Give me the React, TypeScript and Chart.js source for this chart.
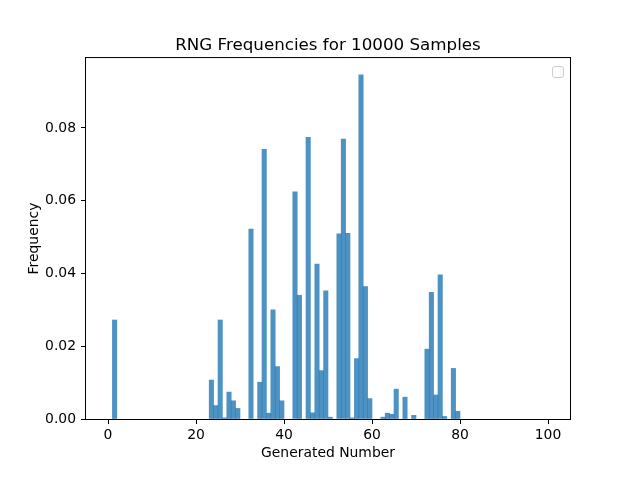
import React, { useEffect, useRef } from "react";
import { Chart, registerables } from "chart.js";

Chart.register(...registerables);

// histogram bins (start of each 1-wide bin) that have any samples
const binStarts = [
  1, 23, 24, 25, 26, 27, 28, 29, 32, 34, 35, 36, 37, 38, 39, 42, 43, 45, 46, 47, 48, 49, 50,
  52, 53, 54, 55, 56, 57, 58, 59, 62, 63, 64, 65, 67, 69, 72, 73, 74, 75, 76, 78, 79,
];
const frequencies = [
  0.0272, 0.0107, 0.0037, 0.0272, 0.0003, 0.0074, 0.005, 0.0029, 0.0522, 0.0101, 0.0741,
  0.0016, 0.03, 0.0144, 0.005, 0.0624, 0.034, 0.0774, 0.0017, 0.0426, 0.0133, 0.0352, 0.0005,
  0.0509, 0.0769, 0.051, 0.0003, 0.0166, 0.0946, 0.0364, 0.0056, 0.0005, 0.0016, 0.0013,
  0.0082, 0.006, 0.001, 0.0192, 0.0348, 0.0066, 0.0396, 0.0007, 0.0139, 0.0021,
];
const xTicks = [0, 20, 40, 60, 80, 100];
const yTicks = [0, 0.02, 0.04, 0.06, 0.08];

const titleText = "RNG Frequencies for 10000 Samples";
const xLabel = "Generated Number";
const yLabel = "Frequency";

const FONT = "'DejaVu Sans', sans-serif";

// axes box on all four sides plus the empty legend frame in the top right
const framePlugin = {
  id: "frame",
  afterDatasetsDraw(chart: Chart) {
    const { ctx, chartArea: a } = chart;
    ctx.save();
    ctx.strokeStyle = "#000";
    ctx.lineWidth = 1;
    ctx.strokeRect(a.left - 0.5, a.top - 0.5, a.right - a.left + 1, a.bottom - a.top + 1);

    const bx = a.right - 17.5;
    const by = a.top + 8.5;
    const s = 11;
    const r = 2.5;
    ctx.beginPath();
    ctx.moveTo(bx + r, by);
    ctx.arcTo(bx + s, by, bx + s, by + s, r);
    ctx.arcTo(bx + s, by + s, bx, by + s, r);
    ctx.arcTo(bx, by + s, bx, by, r);
    ctx.arcTo(bx, by, bx + s, by, r);
    ctx.closePath();
    ctx.fillStyle = "rgba(255,255,255,0.8)";
    ctx.fill();
    ctx.strokeStyle = "#cccccc";
    ctx.stroke();
    ctx.restore();
  },
};

const App: React.FC = () => {
  const canvasRef = useRef<HTMLCanvasElement | null>(null);

  useEffect(() => {
    document.body.style.margin = "0";
    if (!canvasRef.current) return;

    const chart = new Chart(canvasRef.current, {
      type: "bar",
      data: {
        datasets: [
          {
            data: binStarts.map((b, i) => ({ x: b + 0.5, y: frequencies[i] })),
            backgroundColor: "rgba(31,119,180,0.8)",
            borderWidth: 0,
            barPercentage: 1,
            categoryPercentage: 1,
          },
        ],
      },
      options: {
        animation: false,
        responsive: false,
        devicePixelRatio: 1,
        layout: { padding: { top: 0, right: 63, bottom: 0, left: 0 } },
        plugins: {
          legend: { display: false },
          tooltip: { enabled: false },
          title: {
            display: true,
            text: titleText,
            fullSize: false,
            color: "#000",
            font: { family: FONT, size: 16.7, weight: "normal", lineHeight: 1.2 },
            padding: { top: 36, bottom: 2 },
          },
        },
        scales: {
          x: {
            type: "linear",
            min: -5,
            max: 105,
            offset: false,
            border: { display: false },
            grid: {
              offset: false,
              drawOnChartArea: false,
              drawTicks: true,
              tickLength: 5,
              tickColor: "#000",
            },
            ticks: {
              color: "#000",
              padding: 3,
              font: { family: FONT, size: 13.9 },
              callback: (v) => String(v),
            },
            afterBuildTicks: (scale) => {
              scale.ticks = xTicks.map((v) => ({ value: v }));
            },
            afterFit: (scale) => {
              scale.height = 66;
            },
            title: {
              display: true,
              text: xLabel,
              color: "#000",
              font: { family: FONT, size: 13.9, lineHeight: 1.2 },
              padding: { top: 0, bottom: 23 },
            },
          },
          y: {
            min: 0,
            max: 0.0992,
            border: { display: false },
            grid: { drawOnChartArea: false, drawTicks: true, tickLength: 5, tickColor: "#000" },
            ticks: {
              color: "#000",
              padding: 5,
              font: { family: FONT, size: 13.9 },
              callback: (v) => Number(v).toFixed(2),
            },
            afterBuildTicks: (scale) => {
              scale.ticks = yTicks.map((v) => ({ value: v }));
            },
            afterFit: (scale) => {
              scale.width = 86;
            },
            title: {
              display: true,
              text: yLabel,
              color: "#000",
              font: { family: FONT, size: 13.9, lineHeight: 1.2 },
              padding: { top: 26, bottom: 0 },
            },
          },
        },
      },
      plugins: [framePlugin],
    });

    return () => {
      chart.destroy();
    };
  }, []);

  return (
    <div style={{ width: 633, height: 485, background: "#fff" }}>
      <canvas ref={canvasRef} width={633} height={485} style={{ width: 633, height: 485 }} />
    </div>
  );
};

export default App;
